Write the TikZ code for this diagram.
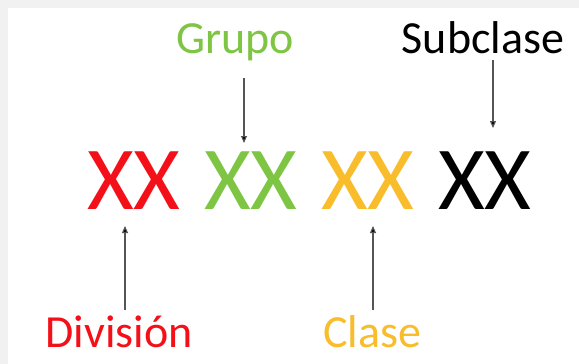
\documentclass[tikz,border=0pt]{standalone}
\usepackage{fontspec}
\setmainfont{Carlito}
\usetikzlibrary{arrows.meta}
\definecolor{cred}{HTML}{F41018}
\definecolor{cgreen}{HTML}{7EC544}
\definecolor{cyellow}{HTML}{F9BC2A}
\definecolor{cframe}{HTML}{F1F1F1}
\definecolor{cline}{HTML}{555555}
\begin{document}
\begin{tikzpicture}[x=1pt,y=-1pt,
  lbl/.style={font=\fontsize{46}{46}\selectfont, inner sep=0pt, anchor=base},
  code/.style={font=\fontsize{90}{90}\selectfont, inner sep=0pt, anchor=base},
  arr/.style={draw=cline, line width=1.1pt, -{Triangle[length=7pt,width=6pt,fill=black]}}]
\useasboundingbox (0,0) rectangle (579,364);
\fill[cframe] (0,0) rectangle (579,364);
\fill[white] (8,8) rectangle (579,364);
% labels
\node[lbl, text=cgreen] (grupo) at (235,53) {Grupo};
\node[lbl, text=black] (subclase) at (483,53) {Subclase};
\node[lbl, text=cred] (division) at (119,347) {División};
\node[lbl, text=cyellow] (clase) at (372,347) {Clase};
% codes
\node[code, text=cred] (xr) at (134,209) {XX};
\node[code, text=cgreen] (xg) at (251,209) {XX};
\node[code, text=cyellow] (xy) at (368,209) {XX};
\node[code, text=black] (xb) at (485,209) {XX};
% arrow ends
\coordinate (ga) at (244,78);
\coordinate (gb) at (244,143);
\coordinate (sa) at (493,60);
\coordinate (sb) at (493,128);
\coordinate (da) at (125,310);
\coordinate (db) at (125,226);
\coordinate (ca) at (373,310);
\coordinate (cb) at (373,226);
\draw[arr] (ga) -- (gb);
\draw[arr] (sa) -- (sb);
\draw[arr] (da) -- (db);
\draw[arr] (ca) -- (cb);
\end{tikzpicture}
\end{document}
